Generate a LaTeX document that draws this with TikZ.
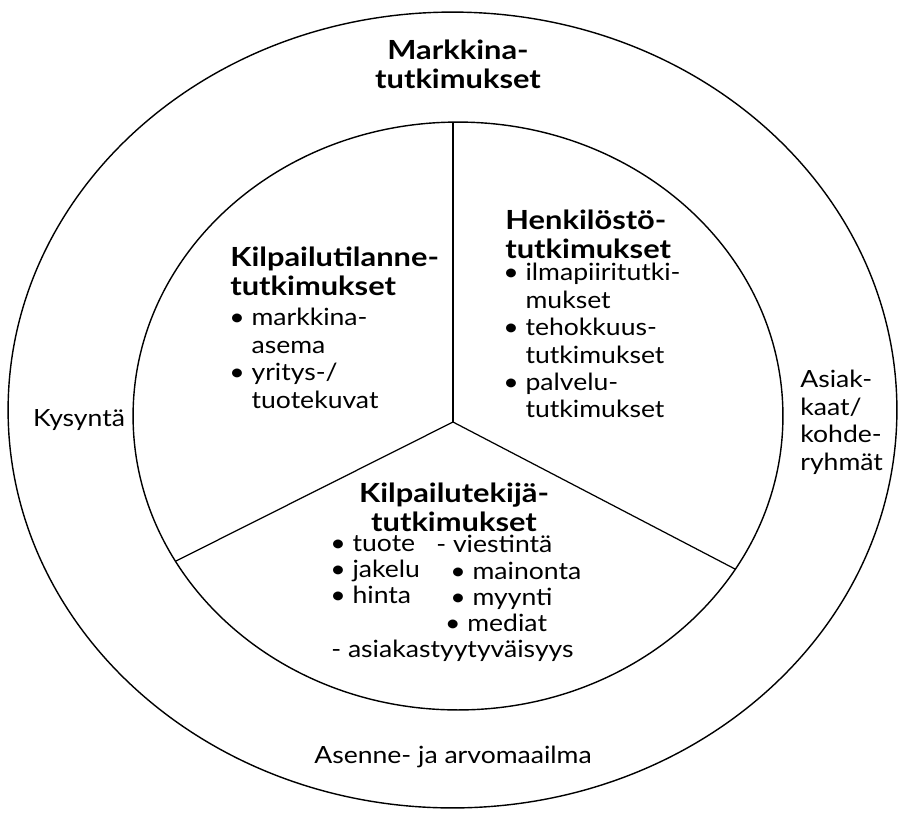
\documentclass[tikz,border=0pt]{standalone}
\usepackage{fontspec}
\setmainfont{Lato}[FakeStretch=1.12]
\newfontfamily\ttlfont{Lato}[FakeStretch=1.17]
\begin{document}
\begin{tikzpicture}[x=0.02cm,y=-0.02cm,
  ring/.style={draw=black,line width=0.8pt},
  spoke/.style={draw=black,line width=0.7pt},
  ttl/.style={font=\ttlfont\bfseries\fontsize{15}{16}\selectfont,inner sep=0pt,align=left},
  bodytxt/.style={font=\fontsize{13.5}{15.6}\selectfont,inner sep=0pt,align=left},
  bodytight/.style={font=\fontsize{13.5}{15}\selectfont,inner sep=0pt,align=left}]
\useasboundingbox (0,0) rectangle (902,812);
% rings
\draw[ring] (452.5,410) ellipse [x radius=8.89cm, y radius=7.96cm];
\draw[ring] (458,416) ellipse [x radius=6.5cm, y radius=5.88cm];
% spokes
\coordinate (c) at (453,422);
\coordinate (top) at (453,122);
\coordinate (left) at (176,561);
\coordinate (right) at (735,569);
\draw[spoke] (c) -- (top);
\draw[spoke] (c) -- (left);
\draw[spoke] (c) -- (right);
% outer ring labels
\node[ttl,align=center,anchor=north] (mt) at (458,40) {Markkina-\\tutkimukset};
\node[bodytxt] (kys) at (79,420) {Kysyntä};
\node[bodytxt,anchor=north west] (asi) at (800,370) {Asiak-\\kaat/\\kohde-\\ryhmät};
\node[bodytxt] (ase) at (453,757) {Asenne- ja arvomaailma};
% Kilpailutilanne
\node[ttl,anchor=north west] (kt) at (230,247) {Kilpailutilanne-\\tutkimukset};
\node[bodytxt,anchor=north west] (ktb) at (229,308) {• markkina-\\\phantom{• }asema\\• yritys-/\\\phantom{• }tuotekuvat};
% Henkilosto
\node[ttl,anchor=north west] (ht) at (505,210) {Henkilöstö-\\tutkimukset};
\node[bodytxt,anchor=north west] (htb) at (503,263) {• ilmapiiritutki-\\\phantom{• }mukset\\• tehokkuus-\\\phantom{• }tutkimukset\\• palvelu-\\\phantom{• }tutkimukset};
% Kilpailutekija
\node[ttl,align=center,anchor=north] (kk) at (454,483) {Kilpailutekijä-\\tutkimukset};
\node[bodytight,anchor=north west] (kkl) at (330,535) {• tuote\\• jakelu\\• hinta};
\node[bodytight,anchor=north west] (kkr) at (436,535) {- viestintä\\\hspace{8pt}• mainonta\\\hspace{8pt}• myynti\\\hspace{5pt}• mediat};
\node[bodytight,anchor=north west] (kka) at (331,640) {- asiakastyytyväisyys};
\end{tikzpicture}
\end{document}
